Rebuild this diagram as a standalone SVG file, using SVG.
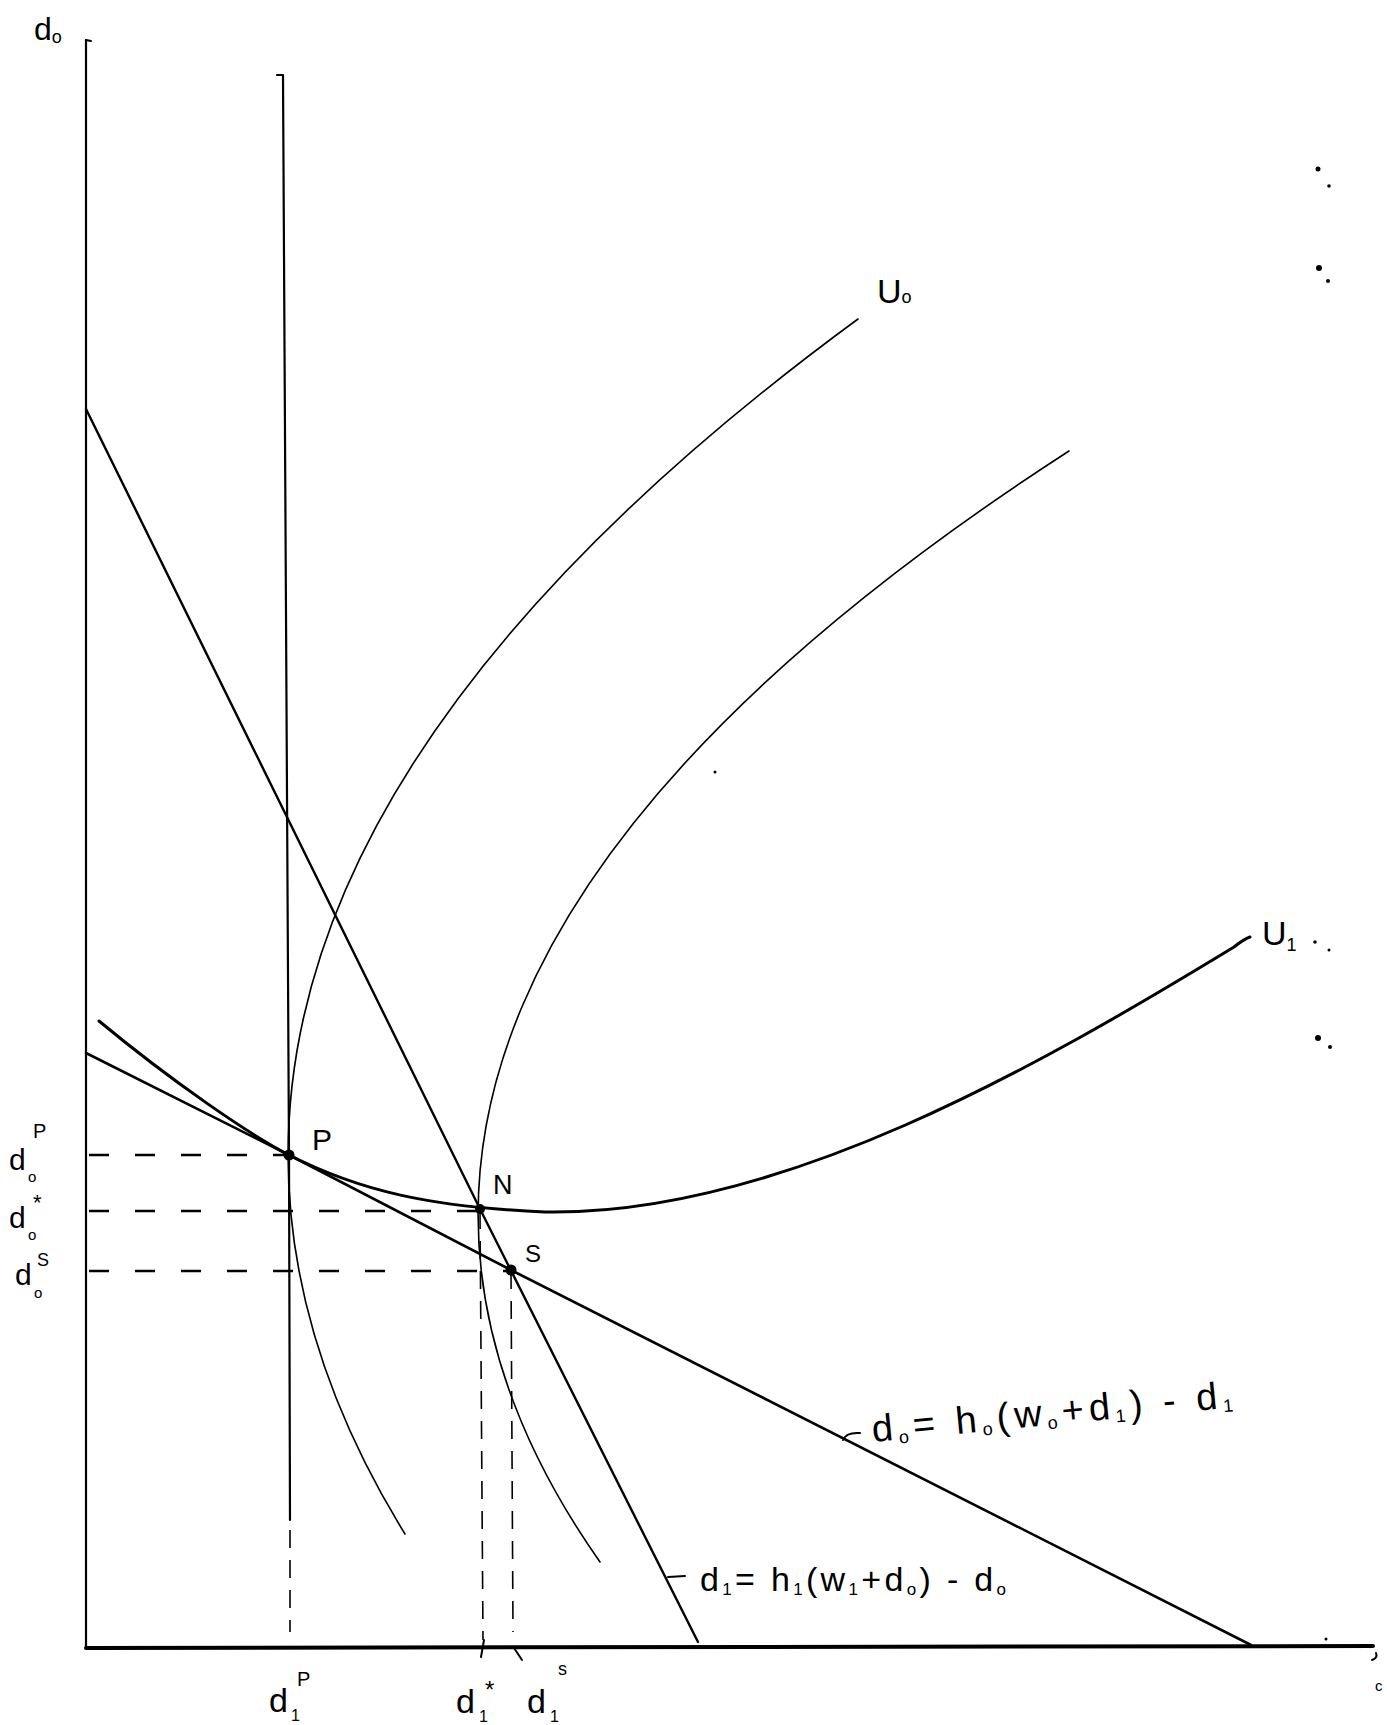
<svg xmlns="http://www.w3.org/2000/svg" width="1387" height="1725" viewBox="0 0 1387 1725">
<style>
.ln{fill:none;stroke:#000;stroke-linecap:round;stroke-linejoin:round}
.dash{fill:none;stroke:#000;stroke-width:2.4;stroke-dasharray:20 26}
.vdash{fill:none;stroke:#000;stroke-width:1.6;stroke-dasharray:18 12}
.t{font-family:"Liberation Sans","DejaVu Sans",sans-serif;fill:#000}
.dot{fill:#000}
</style>
<rect width="1387" height="1725" fill="#fff"/>
<g id="axes">
<path class="ln" d="M86,40 L86,1648" stroke-width="2.2"/>
<path class="ln" d="M86,40 L91,41" stroke-width="2"/>
<path class="ln" d="M86,1648 L1373,1646" stroke-width="4"/>
</g>
<g id="connectors">
<path class="dash" d="M89,1155 L289,1155"/>
<path class="dash" d="M89,1211 L480,1211"/>
<path class="dash" d="M89,1271 L511,1271"/>
<path class="vdash" d="M480,1211 L483,1640"/>
<path class="vdash" d="M511,1271 L513,1632"/>
<path class="ln" d="M484,1640 L481,1657" stroke-width="2"/>
<path class="ln" d="M514,1648 L522,1660" stroke-width="2"/>
</g>
<g id="vertical-line">
<path class="ln" d="M277,75 L283,75 L289,1155 L290,1520" stroke-width="2.2"/>
<path class="vdash" d="M290,1530 L290,1632"/>
</g>
<g id="line-d1">
<path class="ln" d="M86,409 L480,1209 L698,1642" stroke-width="2.4"/>
</g>
<g id="line-d0">
<path class="ln" d="M86,1053 L289,1155 L511,1270 L1251,1645" stroke-width="2.6"/>
</g>
<g id="curve-U0">
<path class="ln" d="M858,319 Q30,926.5 405,1534" stroke-width="1.6"/>
</g>
<g id="curve-U0b">
<path class="ln" d="M1069,451 Q209.7,1006.5 600,1562" stroke-width="1.6"/>
</g>
<g id="curve-U1">
<path class="ln" d="M99,1021 C170,1080 250,1135 289,1155 C360,1191 430,1207 545,1212 C780,1216 1040,1065 1234,947 Q1244,939 1250,937" stroke-width="3"/>
</g>
<g id="points">
<circle class="dot" cx="289" cy="1155" r="5.5"/>
<circle class="dot" cx="480" cy="1209" r="5"/>
<circle class="dot" cx="511" cy="1270" r="5.5"/>
</g>
<g id="labels">
<text class="t" x="34" y="40" font-size="32">d<tspan font-size="18" dy="3">o</tspan></text>
<text class="t" x="877" y="303" font-size="34">U<tspan font-size="18">o</tspan></text>
<text class="t" x="1262" y="945" font-size="34">U<tspan font-size="18" dy="6">1</tspan></text>
<text class="t" x="312" y="1150" font-size="30">P</text>
<text class="t" x="493" y="1194" font-size="27">N</text>
<text class="t" x="525" y="1262" font-size="24">S</text>
<text class="t" x="9" y="1170" font-size="30">d</text>
<text class="t" x="28" y="1182" font-size="15">o</text>
<text class="t" x="33" y="1138" font-size="20">P</text>
<text class="t" x="9" y="1228" font-size="30">d</text>
<text class="t" x="28" y="1240" font-size="15">o</text>
<text class="t" x="33" y="1210" font-size="22">*</text>
<text class="t" x="15" y="1285" font-size="30">d</text>
<text class="t" x="34" y="1298" font-size="15">o</text>
<text class="t" x="37" y="1266" font-size="18">S</text>
<text class="t" x="269" y="1712" font-size="34">d</text>
<text class="t" x="291" y="1721" font-size="16">1</text>
<text class="t" x="297" y="1686" font-size="20">P</text>
<text class="t" x="456" y="1713" font-size="34">d</text>
<text class="t" x="479" y="1722" font-size="16">1</text>
<text class="t" x="485" y="1698" font-size="24">*</text>
<text class="t" x="527" y="1713" font-size="34">d</text>
<text class="t" x="550" y="1722" font-size="16">1</text>
<text class="t" x="558" y="1675" font-size="18">s</text>
<path class="ln" d="M843,1440 Q846,1432 860,1433" stroke-width="2"/>
<text class="t" x="873" y="1442" font-size="38" transform="rotate(-5.5 873 1442)" textLength="362" lengthAdjust="spacing">d<tspan font-size="18" dy="4">o</tspan><tspan dy="-4">= h</tspan><tspan font-size="18" dy="4">o</tspan><tspan dy="-4">(w</tspan><tspan font-size="18" dy="4">o</tspan><tspan dy="-4">+d</tspan><tspan font-size="18" dy="4">1</tspan><tspan dy="-4">) - d</tspan><tspan font-size="18" dy="4">1</tspan></text>
<path class="ln" d="M668,1577 L685,1576" stroke-width="2"/>
<text class="t" x="700" y="1591" font-size="34" textLength="306" lengthAdjust="spacing">d<tspan font-size="17" dy="4">1</tspan><tspan dy="-4">= h</tspan><tspan font-size="17" dy="4">1</tspan><tspan dy="-4">(w</tspan><tspan font-size="17" dy="4">1</tspan><tspan dy="-4">+d</tspan><tspan font-size="17" dy="4">o</tspan><tspan dy="-4">) - d</tspan><tspan font-size="17" dy="4">o</tspan></text>
<text class="t" x="1375" y="1691" font-size="15">c</text>
</g>
<g id="specks">
<circle class="dot" cx="1318" cy="169" r="2.5"/>
<circle class="dot" cx="1329" cy="186" r="1.8"/>
<circle class="dot" cx="1319" cy="268" r="3"/>
<circle class="dot" cx="1328" cy="281" r="2"/>
<circle class="dot" cx="1318" cy="1038" r="3"/>
<circle class="dot" cx="1330" cy="1047" r="2"/>
<circle class="dot" cx="1315" cy="942" r="1.8"/>
<circle class="dot" cx="1329" cy="950" r="1.5"/>
<circle class="dot" cx="715" cy="772" r="1.5"/>
<circle class="dot" cx="1326" cy="1639" r="1.5"/>
<path class="ln" d="M1376,1653 Q1378,1658 1372,1660" stroke-width="2"/>
</g>
</svg>
